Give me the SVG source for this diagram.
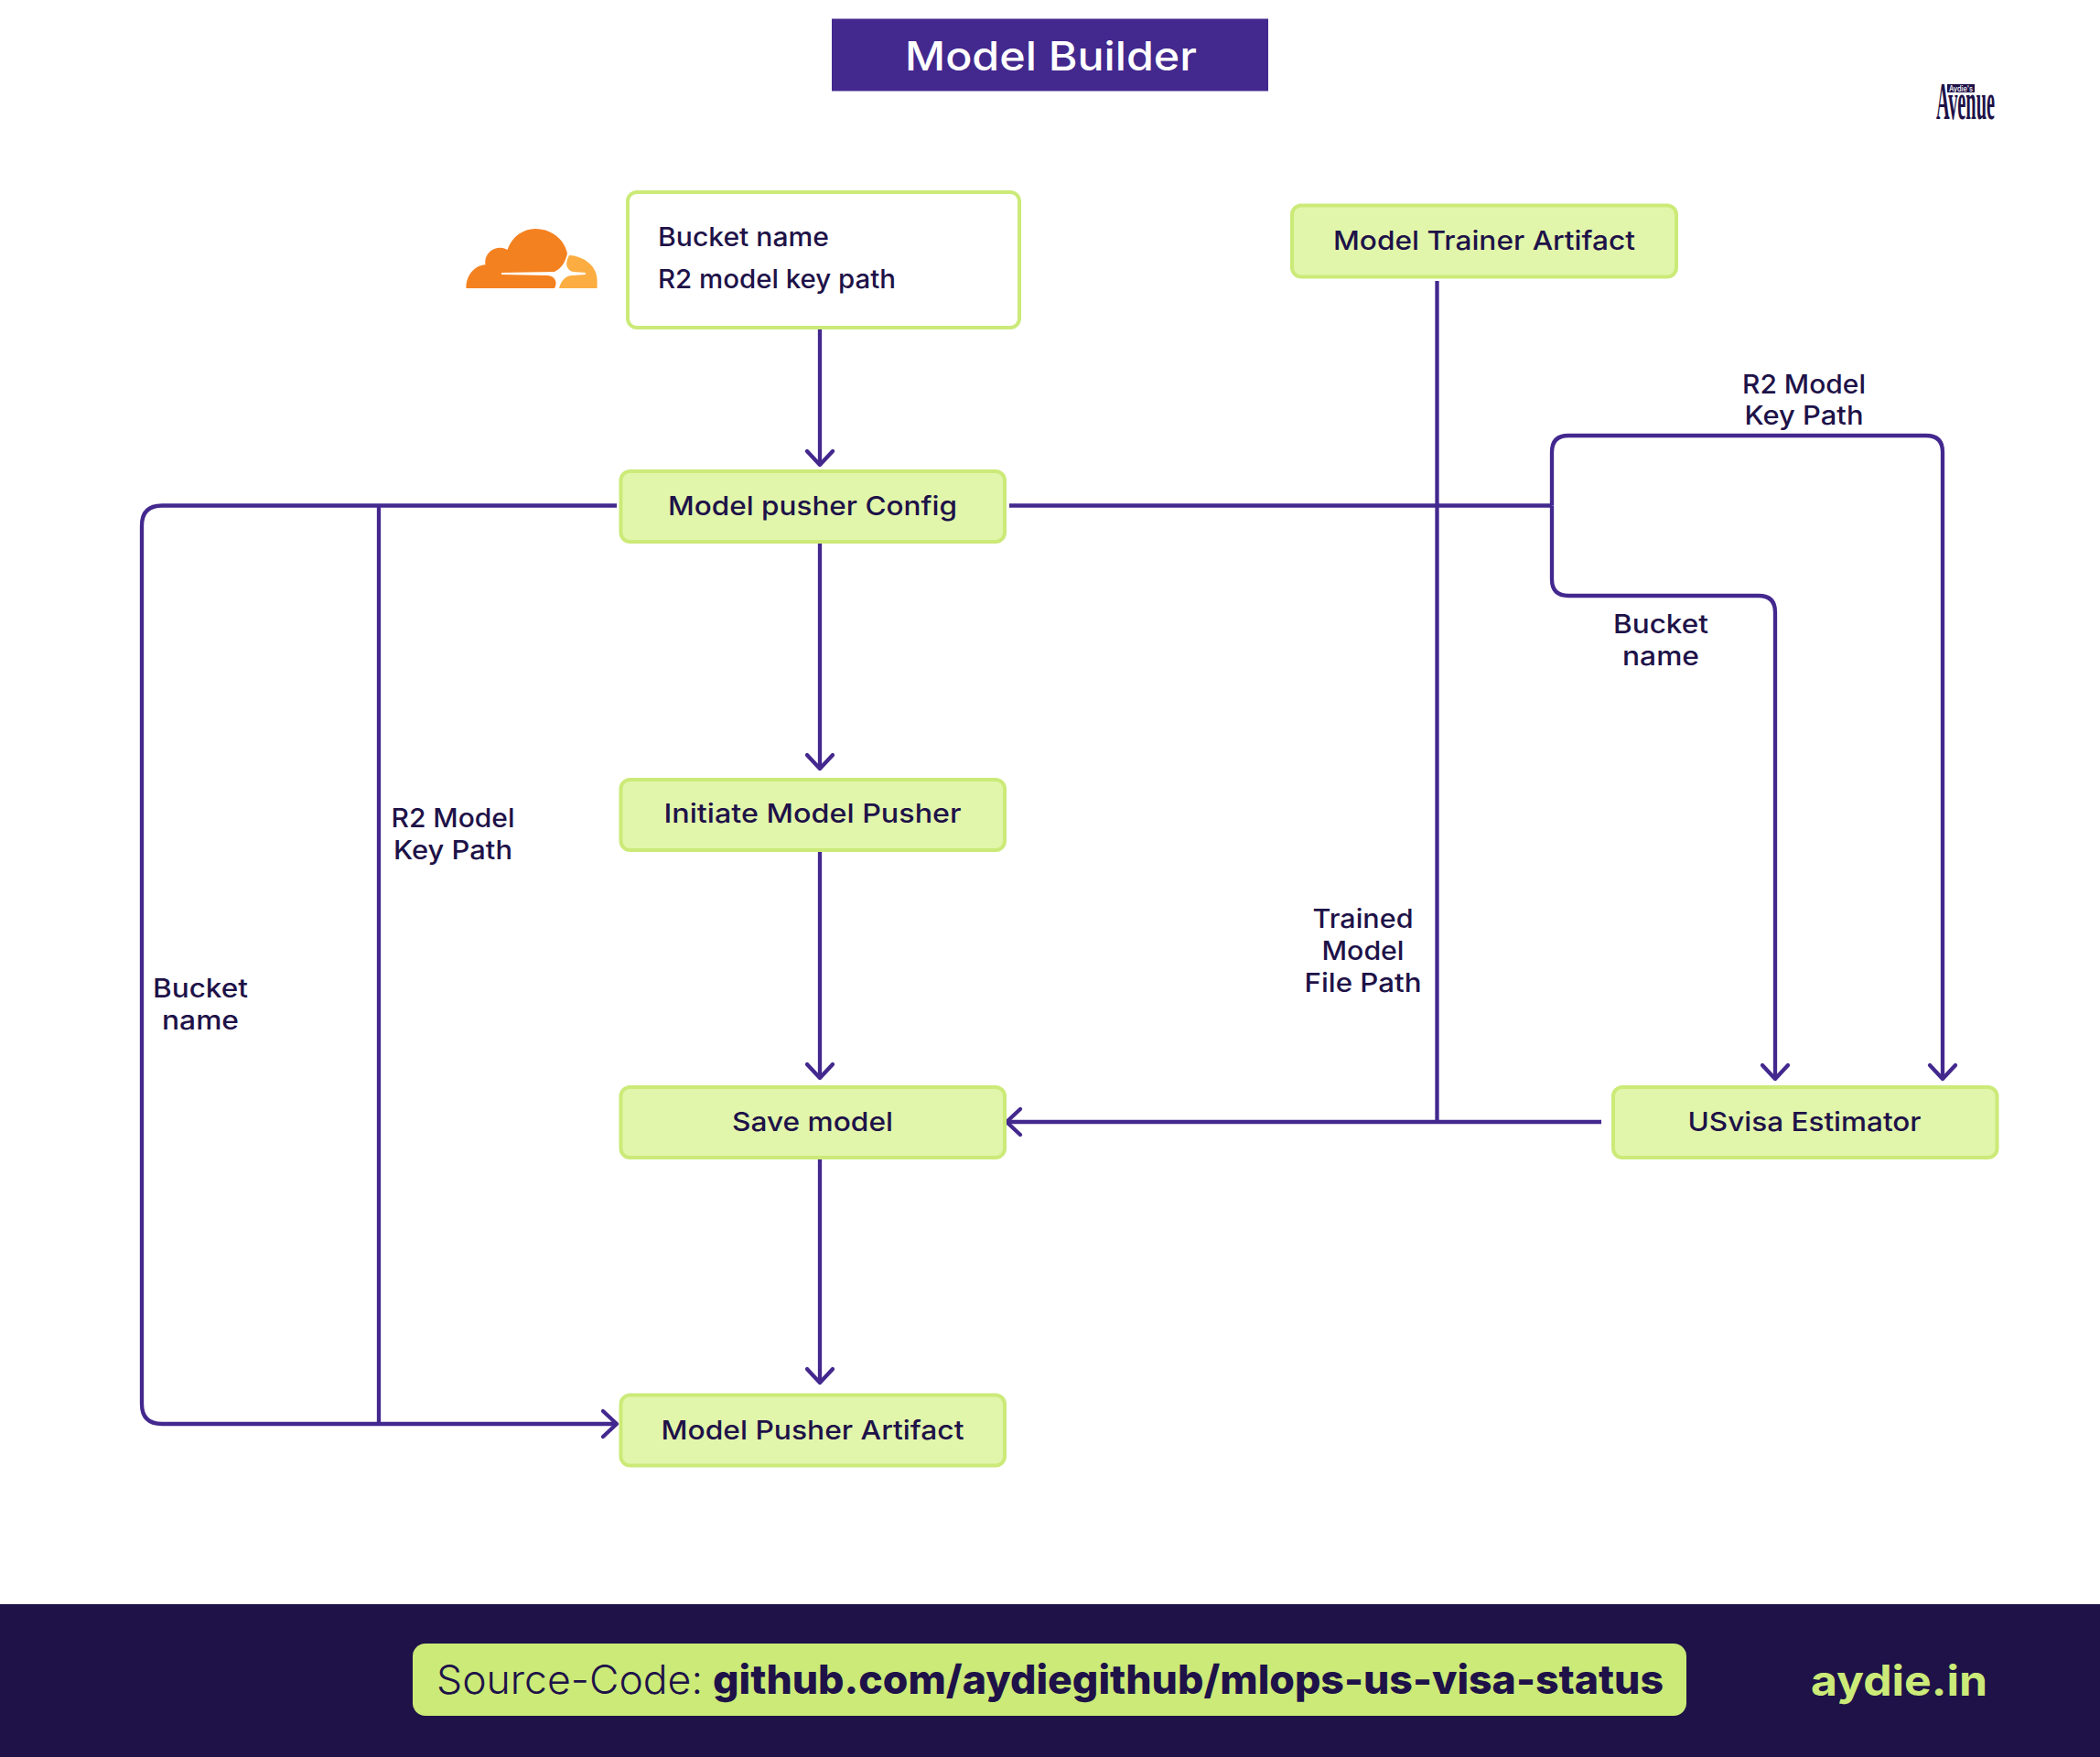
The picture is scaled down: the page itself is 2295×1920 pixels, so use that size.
<svg xmlns="http://www.w3.org/2000/svg" width="2295" height="1920" viewBox="0 0 2295 1920">
<style>
text{font-family:"Inter","Open Sans","Liberation Sans",sans-serif;font-weight:500;fill:#1E1248}
.n{fill:#E1F6AB;stroke:#CBEA78;stroke-width:4}
.t{font-size:29px;text-anchor:middle}
.l{font-size:28px;text-anchor:middle}
.c{fill:none;stroke:#43288E;stroke-width:4.3}
</style>
<defs>
<marker id="ah" markerUnits="userSpaceOnUse" markerWidth="24" markerHeight="36" viewBox="-20 -18 24 36" refX="0" refY="0" orient="auto">
<path d="M-15,-14 L0,0 L-15,14" fill="none" stroke="#43288E" stroke-width="4.3" stroke-linecap="round" stroke-linejoin="round"/>
</marker>
</defs>
<rect width="2295" height="1920" fill="#FFFFFF"/>
<g id="title">
<rect x="909" y="20.5" width="477" height="79" fill="#43288E"/>
<text x="1148.5" y="76.5" text-anchor="middle" style="fill:#FFFFFF;font-size:44px" textLength="319" lengthAdjust="spacingAndGlyphs">Model Builder</text>
</g>
<g id="avenue-logo">
<rect x="2128" y="92" width="30" height="9" fill="#1E1248"/>
<text x="2143" y="99.5" text-anchor="middle" style="fill:#FFFFFF;font-size:8.5px" textLength="26" lengthAdjust="spacingAndGlyphs">Aydie's</text>
<text x="2116" y="130" style="font-family:'Liberation Serif',serif;font-weight:700;font-size:56px" textLength="64" lengthAdjust="spacingAndGlyphs">Avenue</text>
</g>
<g id="connectors">
<path class="c" d="M896,359 V508" marker-end="url(#ah)"/>
<path class="c" d="M896,592 V840" marker-end="url(#ah)"/>
<path class="c" d="M896,929 V1178" marker-end="url(#ah)"/>
<path class="c" d="M896,1264 V1511" marker-end="url(#ah)"/>
<path class="c" d="M674,552.5 H177 Q155,552.5 155,574.5 V1534 Q155,1556 177,1556 H674" marker-end="url(#ah)"/>
<path class="c" d="M414,552.5 V1556"/>
<path class="c" d="M1103,552.5 H1696"/>
<path class="c" d="M1696,552.5 V494 Q1696,476 1714,476 H2105 Q2123,476 2123,494 V1179" marker-end="url(#ah)"/>
<path class="c" d="M1696,552.5 V633 Q1696,651 1714,651 H1922 Q1940,651 1940,669 V1179" marker-end="url(#ah)"/>
<path class="c" d="M1570.5,307 V1226"/>
<path class="c" d="M1750,1226 H1100" marker-end="url(#ah)"/>
</g>
<g id="cloudflare-logo">
<path fill="#F48120" d="M509.5,315 C509,302 518,290 530.5,289.3 C528,276 543,266 554.5,273 C560,258 572,250 585,250 C603,250 617,262 620,277 C618,286 614,293 606,297 L548,298 L548,300 L598,301 C606,301 610,308 606,315 Z"/>
<path fill="#FBAD41" d="M622,279 C640,280 652.6,292 652.6,306 L652.6,315 L611,315 C613,307 618,301 626,301 L640,300 L640,298 L626,297 C619,295 617,288 622,279 Z"/>
</g>
<g id="node-bucket-config">
<rect x="686" y="210" width="428" height="148" rx="10" fill="#FFFFFF" stroke="#CBEA78" stroke-width="4"/>
<text x="719" y="269" style="font-size:28px" textLength="187" lengthAdjust="spacingAndGlyphs">Bucket name</text>
<text x="719" y="315" style="font-size:28px" textLength="260" lengthAdjust="spacingAndGlyphs">R2 model key path</text>
</g>
<g id="node-model-trainer-artifact">
<rect class="n" x="1412" y="224.5" width="420" height="78" rx="10"/>
<text class="t" x="1622" y="273" textLength="330" lengthAdjust="spacingAndGlyphs">Model Trainer Artifact</text>
</g>
<g id="node-model-pusher-config">
<rect class="n" x="678.5" y="515" width="419.5" height="77" rx="10"/>
<text class="t" x="888" y="563" textLength="316" lengthAdjust="spacingAndGlyphs">Model pusher Config</text>
</g>
<g id="node-initiate-model-pusher">
<rect class="n" x="678.5" y="852" width="419.5" height="77" rx="10"/>
<text class="t" x="888" y="899" textLength="325" lengthAdjust="spacingAndGlyphs">Initiate Model Pusher</text>
</g>
<g id="node-save-model">
<rect class="n" x="678.5" y="1188" width="419.5" height="77" rx="10"/>
<text class="t" x="888" y="1235.5" textLength="176" lengthAdjust="spacingAndGlyphs">Save model</text>
</g>
<g id="node-model-pusher-artifact">
<rect class="n" x="678.5" y="1524.5" width="419.5" height="77" rx="10"/>
<text class="t" x="888" y="1572.5" textLength="331" lengthAdjust="spacingAndGlyphs">Model Pusher Artifact</text>
</g>
<g id="node-usvisa-estimator">
<rect class="n" x="1763" y="1188" width="419.5" height="77" rx="10"/>
<text class="t" x="1972" y="1235.5" textLength="255" lengthAdjust="spacingAndGlyphs">USvisa Estimator</text>
</g>
<g id="labels">
<text class="l" x="1971.5" y="430" textLength="135" lengthAdjust="spacingAndGlyphs">R2 Model</text>
<text class="l" x="1971.5" y="464" textLength="130" lengthAdjust="spacingAndGlyphs">Key Path</text>
<text class="l" x="1815" y="692" textLength="104" lengthAdjust="spacingAndGlyphs">Bucket</text>
<text class="l" x="1815" y="727" textLength="84" lengthAdjust="spacingAndGlyphs">name</text>
<text class="l" x="495" y="903.5" textLength="135" lengthAdjust="spacingAndGlyphs">R2 Model</text>
<text class="l" x="495" y="938.5" textLength="130" lengthAdjust="spacingAndGlyphs">Key Path</text>
<text class="l" x="219" y="1090" textLength="104" lengthAdjust="spacingAndGlyphs">Bucket</text>
<text class="l" x="219" y="1125" textLength="84" lengthAdjust="spacingAndGlyphs">name</text>
<text class="l" x="1489.5" y="1014" textLength="110" lengthAdjust="spacingAndGlyphs">Trained</text>
<text class="l" x="1489.5" y="1049" textLength="90" lengthAdjust="spacingAndGlyphs">Model</text>
<text class="l" x="1489.5" y="1084" textLength="128" lengthAdjust="spacingAndGlyphs">File Path</text>
</g>
<g id="footer">
<rect x="0" y="1753" width="2295" height="167" fill="#1E1248"/>
<rect x="451" y="1796" width="1392" height="79" rx="14" fill="#CBEA78"/>
<text x="477" y="1851" style="font-size:44px;font-weight:300" textLength="291" lengthAdjust="spacingAndGlyphs">Source-Code:</text>
<text x="779" y="1851" style="font-size:44px;font-weight:800" textLength="1039" lengthAdjust="spacingAndGlyphs">github.com/aydiegithub/mlops-us-visa-status</text>
<text x="1979" y="1853" style="font-size:46px;font-weight:700;fill:#CBEA78" textLength="193" lengthAdjust="spacingAndGlyphs">aydie.in</text>
</g>
</svg>
